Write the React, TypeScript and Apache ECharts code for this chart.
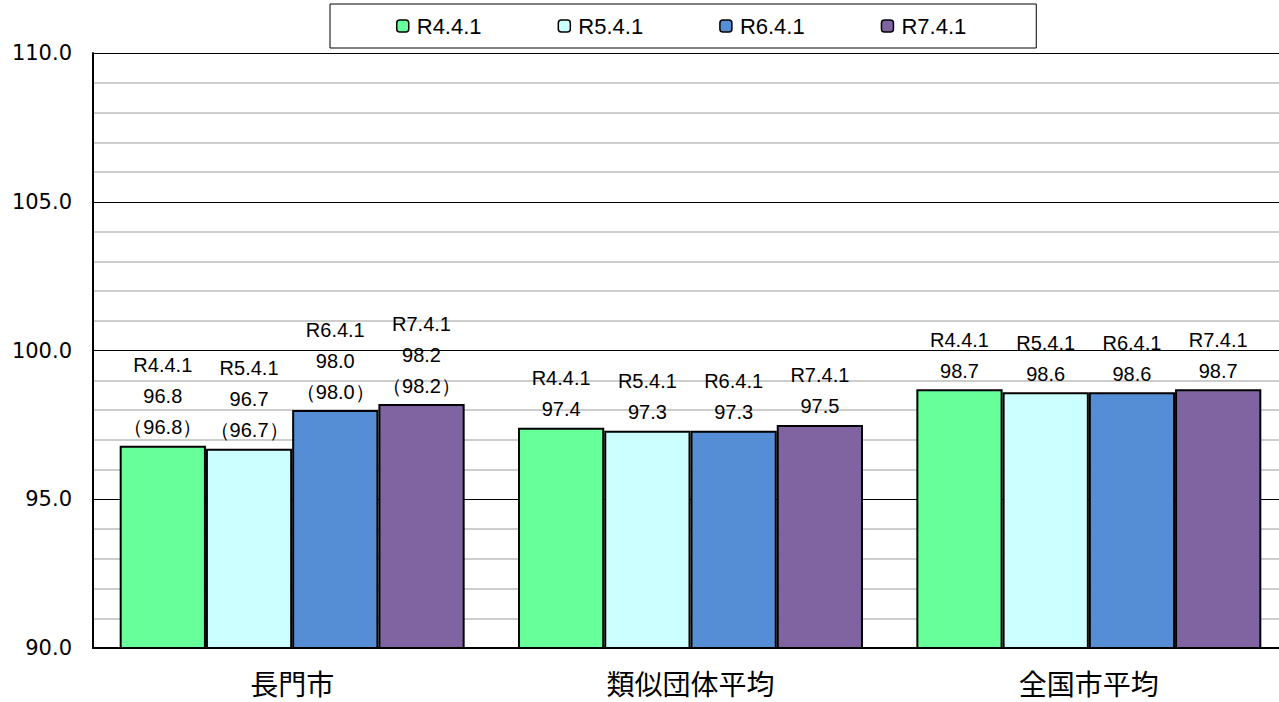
import React, { useEffect, useRef } from "react";
import * as echarts from "echarts";

const categories = ["長門市", "類似団体平均", "全国市平均"];
const seriesNames = ["R4.4.1", "R5.4.1", "R6.4.1", "R7.4.1"];
const r4 = [96.8, 97.4, 98.7];
const r5 = [96.7, 97.3, 98.6];
const r6 = [98.0, 97.3, 98.6];
const r7 = [98.2, 97.5, 98.7];
const seriesColors = ["#66FF99", "#CCFFFF", "#558ED5", "#8064A2"];
const yTicks = { min: 90, max: 110, interval: 5 };

const NUM_FONT = "'Liberation Sans', Arial, sans-serif";
const AXIS_FONT = "'DejaVu Sans', sans-serif";
const CJK_FONT = "'Noto Sans CJK JP', sans-serif";

export default function App() {
  const ref = useRef<HTMLDivElement>(null);
  useEffect(() => {
    if (!ref.current) return;
    const chart = echarts.init(ref.current, null, { renderer: "svg" });
    const allData = [r4, r5, r6, r7];
    const series = seriesNames.map((name, i) => ({
      name,
      type: "bar",
      data: allData[i].map((v, ci) => ({
        value: v,
        label: {
          formatter:
            ci === 0
              ? `${name}\n${v.toFixed(1)}\n（${v.toFixed(1)}）`
              : `${name}\n${v.toFixed(1)}`,
        },
      })),
      barGap: "0%",
      barCategoryGap: "13.4%",
      itemStyle: { color: seriesColors[i], borderColor: "#000", borderWidth: 2 },
      label: {
        show: true,
        position: "top",
        distance: 3,
        color: "#000",
        fontSize: 20,
        lineHeight: 31,
        fontFamily: NUM_FONT,
      },
    }));
    chart.setOption({
      animation: false,
      backgroundColor: "#fff",
      legend: {
        left: 330,
        top: 4,
        padding: [11, 70, 11, 66],
        itemWidth: 12,
        itemHeight: 12,
        itemGap: 76,
        borderColor: "#000",
        borderWidth: 1,
        backgroundColor: "#fff",
        textStyle: { fontSize: 22, color: "#000", fontFamily: NUM_FONT, padding: [0, 0, 0, 3] },
        itemStyle: { borderColor: "#000", borderWidth: 1.5 },
        data: seriesNames,
      },
      grid: { left: 93, right: 0, top: 53, bottom: 54, containLabel: false },
      xAxis: {
        type: "category",
        data: categories,
        axisLine: { lineStyle: { color: "#000", width: 2 } },
        axisTick: { show: false },
        axisLabel: {
          fontSize: 28,
          lineHeight: 28,
          color: "#000",
          fontFamily: CJK_FONT,
          margin: 21,
        },
      },
      yAxis: {
        type: "value",
        min: yTicks.min,
        max: yTicks.max,
        interval: yTicks.interval,
        axisLine: { show: true, lineStyle: { color: "#000", width: 2 } },
        axisTick: { show: false },
        axisLabel: {
          fontSize: 21,
          color: "#000",
          fontFamily: AXIS_FONT,
          margin: 21,
          formatter: (v: number) => v.toFixed(1),
        },
        splitLine: { show: true, lineStyle: { color: "#000", width: 1 } },
        minorTick: { show: false, splitNumber: 5 },
        minorSplitLine: { show: true, lineStyle: { color: "#BDBDBD", width: 1.5 } },
      },
      series,
    });
    return () => chart.dispose();
  }, []);
  return (
    <div
      style={{
        position: "fixed",
        left: 0,
        top: 0,
        width: 1279,
        height: 702,
        overflow: "hidden",
        background: "#fff",
      }}
    >
      <div ref={ref} style={{ width: 1288, height: 702 }} />
    </div>
  );
}
